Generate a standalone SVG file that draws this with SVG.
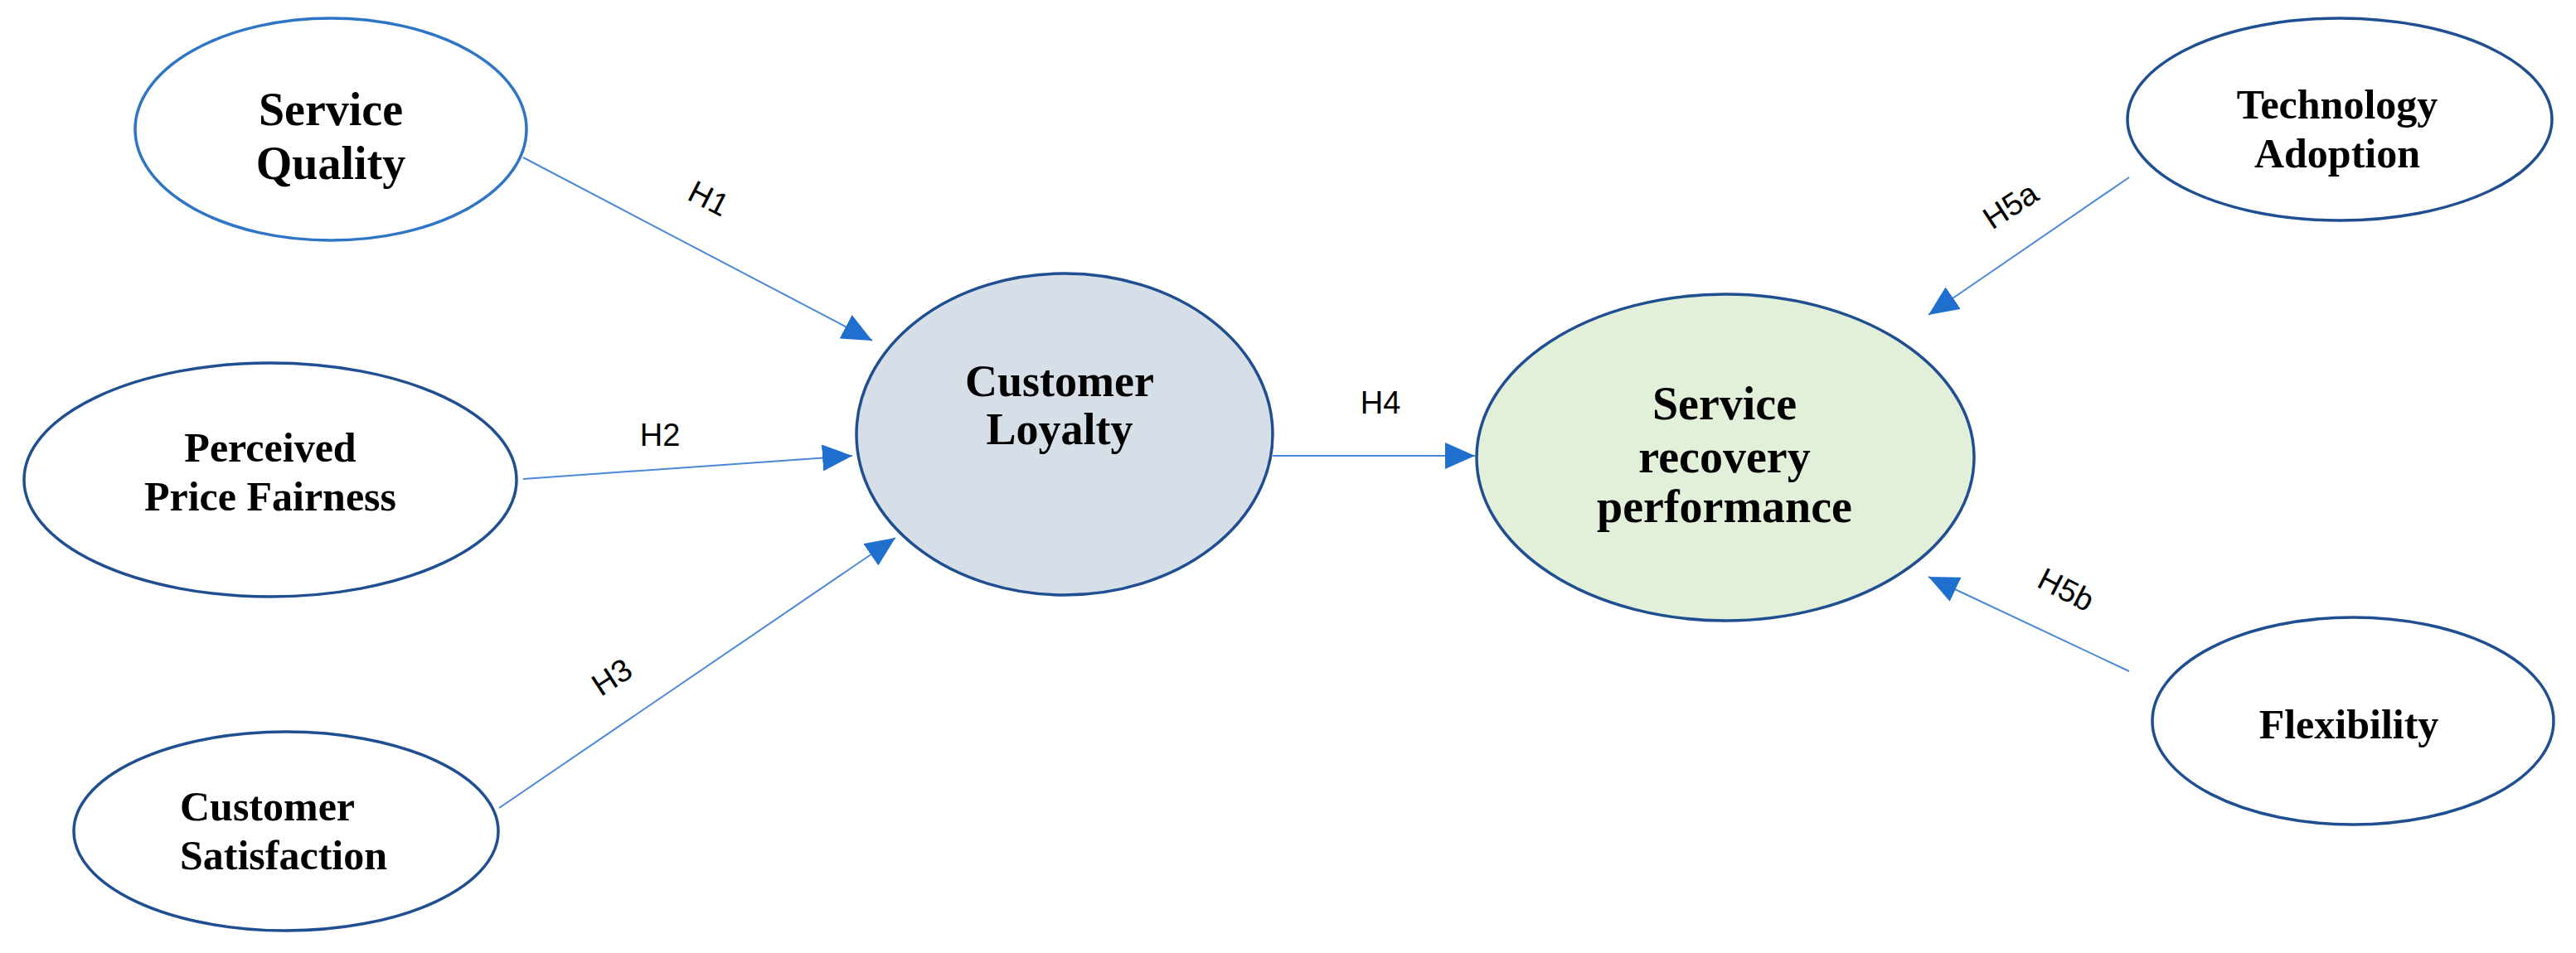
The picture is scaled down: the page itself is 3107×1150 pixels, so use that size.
<svg xmlns="http://www.w3.org/2000/svg" width="3107" height="1150" viewBox="0 0 3107 1150">
<style>
.n{fill:#fff;stroke:#1f4f91;stroke-width:3.5}
.t{font-family:"Liberation Serif",serif;font-weight:bold;fill:#000;text-anchor:middle}
.s{text-anchor:start}
.c{stroke:#4a88d8;stroke-width:2;fill:none;marker-end:url(#ah)}
.l{font-family:"Liberation Sans",sans-serif;font-size:38px;fill:#000;text-anchor:middle}
</style>
<defs>
<marker id="ah" markerUnits="userSpaceOnUse" markerWidth="36" markerHeight="32" refX="36" refY="16" orient="auto">
<path d="M0,0 L36,16 L0,32 Z" fill="#1f6fcf"/>
</marker>
</defs>
<rect width="3107" height="1150" fill="#fff"/>
<g id="connectors">
<line class="c" x1="631" y1="190" x2="1052" y2="411"/>
<line class="c" x1="631" y1="578" x2="1028" y2="550"/>
<line class="c" x1="602" y1="975" x2="1080" y2="649"/>
<line class="c" x1="1535" y1="550" x2="1779" y2="550"/>
<line class="c" x1="2568" y1="214" x2="2326" y2="380"/>
<line class="c" x1="2568" y1="810" x2="2326" y2="696"/>
<text class="l" transform="translate(849,251) rotate(27)">H1</text>
<text class="l" x="796" y="538">H2</text>
<text class="l" transform="translate(745,828) rotate(-33)">H3</text>
<text class="l" x="1665" y="499">H4</text>
<text class="l" transform="translate(2432,259) rotate(-33)">H5a</text>
<text class="l" transform="translate(2486,723) rotate(27)">H5b</text>
</g>
<g id="service-quality">
<ellipse class="n" cx="399" cy="156" rx="236" ry="134" style="stroke:#2e75c6"/>
<text class="t" x="399" y="151" font-size="56">Service</text>
<text class="t" x="399" y="216" font-size="56">Quality</text>
</g>
<g id="price-fairness">
<ellipse class="n" cx="326" cy="579" rx="297" ry="141"/>
<text class="t" x="326" y="557" font-size="50">Perceived</text>
<text class="t" x="326" y="616" font-size="50">Price Fairness</text>
</g>
<g id="customer-satisfaction">
<ellipse class="n" cx="345" cy="1003" rx="256" ry="120"/>
<text class="t s" x="217" y="990" font-size="50">Customer</text>
<text class="t s" x="217" y="1049" font-size="50">Satisfaction</text>
</g>
<g id="customer-loyalty">
<ellipse class="n" cx="1284" cy="524" rx="251" ry="194" style="fill:#d6dfe8"/>
<text class="t" x="1278" y="478" font-size="54">Customer</text>
<text class="t" x="1278" y="536" font-size="54">Loyalty</text>
</g>
<g id="service-recovery">
<ellipse class="n" cx="2081" cy="552" rx="300" ry="197" style="fill:#e2f0d9"/>
<text class="t" x="2080" y="506" font-size="56">Service</text>
<text class="t" x="2080" y="570" font-size="56">recovery</text>
<text class="t" x="2080" y="630" font-size="56">performance</text>
</g>
<g id="technology-adoption">
<ellipse class="n" cx="2822" cy="144" rx="256" ry="122"/>
<text class="t" x="2819" y="143" font-size="50">Technology</text>
<text class="t" x="2819" y="202" font-size="50">Adoption</text>
</g>
<g id="flexibility">
<ellipse class="n" cx="2838" cy="870" rx="242" ry="125"/>
<text class="t" x="2833" y="891" font-size="50">Flexibility</text>
</g>
</svg>
